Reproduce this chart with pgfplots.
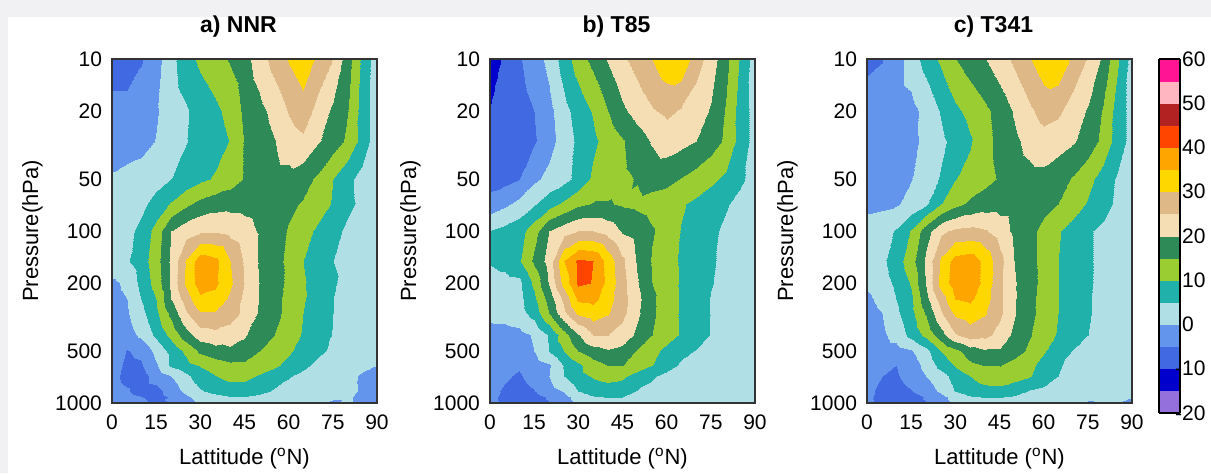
\documentclass[border=0pt]{standalone}
\usepackage{fontspec}
\setmainfont{Liberation Sans}
\usepackage{pgfplots}
\pgfplotsset{compat=1.18}

\definecolor{w01}{HTML}{9370DB}
\definecolor{w02}{HTML}{0000CD}
\definecolor{w03}{HTML}{4169E1}
\definecolor{w04}{HTML}{6495ED}
\definecolor{w05}{HTML}{B0E0E6}
\definecolor{w06}{HTML}{20B2AA}
\definecolor{w07}{HTML}{9ACD32}
\definecolor{w08}{HTML}{2E8B57}
\definecolor{w09}{HTML}{F5DEB3}
\definecolor{w10}{HTML}{DEB887}
\definecolor{w11}{HTML}{FFD700}
\definecolor{w12}{HTML}{FFA500}
\definecolor{w13}{HTML}{FF4500}
\definecolor{w14}{HTML}{B22222}
\definecolor{w15}{HTML}{FFB6C1}
\definecolor{w16}{HTML}{FF1493}
\definecolor{bggray}{HTML}{F1F1F4}

% 16 bands of 5 m/s between -20 and 60
\pgfplotsset{
  colormap={wind}{color=(w01) color=(w02) color=(w03) color=(w04) color=(w05)
    color=(w06) color=(w07) color=(w08) color=(w09) color=(w10) color=(w11)
    color=(w12) color=(w13) color=(w14) color=(w15) color=(w16)}
}

\begin{document}
\begin{tikzpicture}
\path[use as bounding box] (0,0) rectangle (605.5pt,236.5pt);
\fill[bggray] (0,0) rectangle (605.5pt,236.5pt);
\fill[white] (4pt,0) rectangle (605.5pt,228pt);

% a) NNR
\begin{axis}[at={(56pt,35pt)}, anchor=south west, title={a) NNR},
    scale only axis, width=132.5pt, height=172pt,
    xmin=0, xmax=90, ymin=10, ymax=1000, ymode=log, y dir=reverse,
    xtick={0,15,30,45,60,75,90}, xticklabels={0,15,30,45,60,75,90},
    ytick={10,20,50,100,200,500,1000}, yticklabels={10,20,50,100,200,500,1000},
    major tick length=0pt, minor tick length=0pt,
    axis on top,
    colormap name=wind, colormap access=piecewise constant,
    point meta min=-20, point meta max=60,
    tick label style={font=\fontsize{10.5}{12}\selectfont},
    xticklabel style={yshift=-2.5pt},
    yticklabel style={xshift=-1.5pt},
    xlabel={Lattitude (\textsuperscript{o}N)},
    ylabel={Pressure(hPa)},
    label style={font=\fontsize{11}{13}\selectfont},
    xlabel style={at={(axis description cs:0.5,-0.180)}, anchor=base},
    ylabel style={at={(axis description cs:-0.30,0.5)}, rotate=0, anchor=center},
    title style={font=\bfseries\fontsize{11.5}{13}\selectfont,
      at={(axis description cs:0.5,1)}, anchor=base, yshift=7.5pt, xshift=-3pt},
    axis line style={black!80, line width=0.6pt}]
\addplot[surf, shader=interp, mesh/ordering=x varies, mesh/cols=19, point meta=explicit] coordinates {
(0,10) [-8] (5,10) [-8] (10,10) [-5.5] (15,10) [-2] (20,10) [3.5] (25,10) [8] (30,10) [11] (35,10) [13] (40,10) [15.5] (45,10) [18] (50,10) [22.5] (55,10) [27] (60,10) [30.5] (65,10) [33] (70,10) [29] (75,10) [25] (80,10) [17] (85,10) [9] (90,10) [2]
(0,20) [-3] (5,20) [-3] (10,20) [-2] (15,20) [-0.5] (20,20) [2.5] (25,20) [4.5] (30,20) [7] (35,20) [9] (40,20) [11.5] (45,20) [16] (50,20) [18.5] (55,20) [21.5] (60,20) [25.5] (65,20) [28] (70,20) [23] (75,20) [19] (80,20) [15] (85,20) [8] (90,20) [2]
(0,30) [-3] (5,30) [-3] (10,30) [-2] (15,30) [0.2] (20,30) [2.5] (25,30) [4.8] (30,30) [6.5] (35,30) [8] (40,30) [10.2] (45,30) [15.2] (50,30) [17.5] (55,30) [19.8] (60,30) [22.5] (65,30) [24] (70,30) [20.5] (75,30) [17.5] (80,30) [14] (85,30) [8] (90,30) [2]
(0,50) [0.8] (5,50) [2] (10,50) [2.5] (15,50) [3.5] (20,50) [5] (25,50) [7] (30,50) [9] (35,50) [10.5] (40,50) [12.5] (45,50) [15.2] (50,50) [17] (55,50) [18.5] (60,50) [18.5] (65,50) [17] (70,50) [14] (75,50) [10] (80,50) [6] (85,50) [3.5] (90,50) [2]
(0,70) [2] (5,70) [3] (10,70) [4] (15,70) [6.5] (20,70) [10.5] (25,70) [14] (30,70) [16.5] (35,70) [18] (40,70) [18.5] (45,70) [18.5] (50,70) [18] (55,70) [17.5] (60,70) [16] (65,70) [14.5] (70,70) [12.5] (75,70) [9.5] (80,70) [6] (85,70) [4] (90,70) [2]
(0,100) [3] (5,100) [4] (10,100) [6] (15,100) [12] (20,100) [20] (25,100) [23] (30,100) [24.5] (35,100) [24.5] (40,100) [23.5] (45,100) [22] (50,100) [19.5] (55,100) [17] (60,100) [14.5] (65,100) [12] (70,100) [9] (75,100) [6.5] (80,100) [4] (85,100) [3] (90,100) [2]
(0,150) [3] (5,150) [4.5] (10,150) [7.5] (15,150) [13] (20,150) [21] (25,150) [30.5] (30,150) [38] (35,150) [36.5] (40,150) [30] (45,150) [24.5] (50,150) [19.5] (55,150) [16.5] (60,150) [14] (65,150) [10] (70,150) [7.5] (75,150) [5] (80,150) [4] (85,150) [3] (90,150) [2.5]
(0,200) [-1] (5,200) [1] (10,200) [6.5] (15,200) [12] (20,200) [21] (25,200) [31] (30,200) [37.5] (35,200) [36] (40,200) [31] (45,200) [25] (50,200) [20] (55,200) [17] (60,200) [14] (65,200) [10.5] (70,200) [8] (75,200) [5.5] (80,200) [3.5] (85,200) [3] (90,200) [2.5]
(0,250) [-1.5] (5,250) [0] (10,250) [5] (15,250) [10] (20,250) [20] (25,250) [27.5] (30,250) [34] (35,250) [33.5] (40,250) [29] (45,250) [24] (50,250) [19.8] (55,250) [16.5] (60,250) [13.5] (65,250) [10.5] (70,250) [7.5] (75,250) [5] (80,250) [3.5] (85,250) [3] (90,250) [2.5]
(0,300) [-2] (5,300) [-0.5] (10,300) [3.5] (15,300) [9] (20,300) [16.5] (25,300) [24.5] (30,300) [29.5] (35,300) [29.5] (40,300) [27.5] (45,300) [24] (50,300) [19.5] (55,300) [16.5] (60,300) [13.5] (65,300) [10] (70,300) [7.5] (75,300) [5] (80,300) [3.5] (85,300) [3] (90,300) [2.5]
(0,400) [-3] (5,400) [-2] (10,400) [1] (15,400) [6] (20,400) [11.5] (25,400) [18] (30,400) [22.5] (35,400) [23.5] (40,400) [22.5] (45,400) [20.5] (50,400) [17.5] (55,400) [15] (60,400) [12.5] (65,400) [9.5] (70,400) [7] (75,400) [4.8] (80,400) [3.5] (85,400) [3] (90,400) [2.5]
(0,500) [-3] (5,500) [-5.2] (10,500) [-4] (15,500) [1.5] (20,500) [6.5] (25,500) [11] (30,500) [16] (35,500) [18] (40,500) [19] (45,500) [18.5] (50,500) [15] (55,500) [12.5] (60,500) [10.7] (65,500) [8] (70,500) [5.8] (75,500) [4.3] (80,500) [3] (85,500) [2.5] (90,500) [2]
(0,600) [-3] (5,600) [-6] (10,600) [-5.5] (15,600) [-0.5] (20,600) [6] (25,600) [8.5] (30,600) [10.5] (35,600) [12.5] (40,600) [14] (45,600) [14] (50,600) [13] (55,600) [11] (60,600) [8.5] (65,600) [6] (70,600) [4] (75,600) [3] (80,600) [2.5] (85,600) [1] (90,600) [0]
(0,700) [-3.5] (5,700) [-6.5] (10,700) [-7] (15,700) [-3] (20,700) [0] (25,700) [4] (30,700) [7.5] (35,700) [9.8] (40,700) [11.5] (45,700) [11.5] (50,700) [9.5] (55,700) [7.5] (60,700) [5.3] (65,700) [4] (70,700) [3] (75,700) [2] (80,700) [1] (85,700) [-0.5] (90,700) [-1.5]
(0,850) [-3] (5,850) [-4.5] (10,850) [-7] (15,850) [-6.5] (20,850) [-3] (25,850) [1.5] (30,850) [4.5] (35,850) [6.5] (40,850) [7.5] (45,850) [7.5] (50,850) [6.5] (55,850) [4.5] (60,850) [3.5] (65,850) [3] (70,850) [2.5] (75,850) [2] (80,850) [1] (85,850) [-0.5] (90,850) [-1.5]
(0,925) [-2.5] (5,925) [-3.5] (10,925) [-4.8] (15,925) [-6.5] (20,925) [-4.5] (25,925) [-1] (30,925) [2] (35,925) [3.5] (40,925) [4.8] (45,925) [4.8] (50,925) [4] (55,925) [3] (60,925) [2.5] (65,925) [1.5] (70,925) [1] (75,925) [0.5] (80,925) [0.5] (85,925) [-1] (90,925) [-2]
(0,1000) [-2] (5,1000) [-3] (10,1000) [-4] (15,1000) [-5.5] (20,1000) [-5] (25,1000) [-2] (30,1000) [0.5] (35,1000) [2] (40,1000) [3] (45,1000) [3.5] (50,1000) [3.5] (55,1000) [3] (60,1000) [2] (65,1000) [1] (70,1000) [0.2] (75,1000) [-0.5] (80,1000) [0.5] (85,1000) [-0.5] (90,1000) [-1.5]
};
\end{axis}

% b) T85
\begin{axis}[at={(245pt,35pt)}, anchor=south west, title={b) T85},
    scale only axis, width=132.5pt, height=172pt,
    xmin=0, xmax=90, ymin=10, ymax=1000, ymode=log, y dir=reverse,
    xtick={0,15,30,45,60,75,90}, xticklabels={0,15,30,45,60,75,90},
    ytick={10,20,50,100,200,500,1000}, yticklabels={10,20,50,100,200,500,1000},
    major tick length=0pt, minor tick length=0pt,
    axis on top,
    colormap name=wind, colormap access=piecewise constant,
    point meta min=-20, point meta max=60,
    tick label style={font=\fontsize{10.5}{12}\selectfont},
    xticklabel style={yshift=-2.5pt},
    yticklabel style={xshift=-1.5pt},
    xlabel={Lattitude (\textsuperscript{o}N)},
    ylabel={Pressure(hPa)},
    label style={font=\fontsize{11}{13}\selectfont},
    xlabel style={at={(axis description cs:0.5,-0.180)}, anchor=base},
    ylabel style={at={(axis description cs:-0.30,0.5)}, rotate=0, anchor=center},
    title style={font=\bfseries\fontsize{11.5}{13}\selectfont,
      at={(axis description cs:0.5,1)}, anchor=base, yshift=7.5pt, xshift=-3pt},
    axis line style={black!80, line width=0.6pt}]
\addplot[surf, shader=interp, mesh/ordering=x varies, mesh/cols=19, point meta=explicit] coordinates {
(0,10) [-14] (5,10) [-8.5] (10,10) [-5.5] (15,10) [-2.5] (20,10) [1.5] (25,10) [7.5] (30,10) [12.5] (35,10) [16.5] (40,10) [20.5] (45,10) [24] (50,10) [27] (55,10) [30] (60,10) [33.5] (65,10) [34] (70,10) [27.5] (75,10) [22.5] (80,10) [16.5] (85,10) [9.5] (90,10) [2.5]
(0,20) [-9.8] (5,20) [-8] (10,20) [-7] (15,20) [-5] (20,20) [-1.5] (25,20) [3.5] (30,20) [7] (35,20) [10.5] (40,20) [15] (45,20) [19] (50,20) [22] (55,20) [24.5] (60,20) [26] (65,20) [24.5] (70,20) [22] (75,20) [19.5] (80,20) [14.5] (85,20) [8] (90,20) [3]
(0,30) [-8] (5,30) [-8] (10,30) [-7] (15,30) [-5.5] (20,30) [-2] (25,30) [2.5] (30,30) [6] (35,30) [9] (40,30) [12] (45,30) [14.5] (50,30) [17.5] (55,30) [20.5] (60,30) [22.5] (65,30) [21.5] (70,30) [20] (75,30) [17.5] (80,30) [14] (85,30) [8] (90,30) [3]
(0,50) [-7] (5,50) [-6.5] (10,50) [-5.2] (15,50) [-1] (20,50) [1.5] (25,50) [3.5] (30,50) [6.5] (35,50) [11] (40,50) [13] (45,50) [14] (50,50) [15.3] (55,50) [17] (60,50) [16.5] (65,50) [14.8] (70,50) [13] (75,50) [11] (80,50) [9] (85,50) [6] (90,50) [3]
(0,70) [-3] (5,70) [-1] (10,70) [1.5] (15,70) [4.5] (20,70) [8] (25,70) [11] (30,70) [14] (35,70) [15.3] (40,70) [15.3] (45,70) [14.5] (50,70) [14] (55,70) [13] (60,70) [12] (65,70) [10.5] (70,70) [9] (75,70) [7.5] (80,70) [5.5] (85,70) [3.5] (90,70) [2]
(0,100) [5.2] (5,100) [6.5] (10,100) [8] (15,100) [13] (20,100) [20] (25,100) [23] (30,100) [25] (35,100) [25] (40,100) [23] (45,100) [19.5] (50,100) [18] (55,100) [15.5] (60,100) [12.5] (65,100) [9.8] (70,100) [8] (75,100) [6] (80,100) [4] (85,100) [3] (90,100) [2.5]
(0,150) [5.5] (5,150) [7] (10,150) [9.5] (15,150) [16] (20,150) [22] (25,150) [35] (30,150) [41] (35,150) [40] (40,150) [33] (45,150) [26] (50,150) [19.5] (55,150) [14.5] (60,150) [11.5] (65,150) [9.5] (70,150) [7.5] (75,150) [5.5] (80,150) [4] (85,150) [3] (90,150) [2.5]
(0,200) [2.5] (5,200) [3] (10,200) [3.5] (15,200) [11] (20,200) [20.5] (25,200) [32] (30,200) [41] (35,200) [39.8] (40,200) [33.5] (45,200) [27] (50,200) [20.5] (55,200) [15] (60,200) [12] (65,200) [9.5] (70,200) [7.5] (75,200) [5.2] (80,200) [4] (85,200) [3] (90,200) [2.5]
(0,250) [2] (5,250) [2.5] (10,250) [3.5] (15,250) [9] (20,250) [17] (25,250) [26.5] (30,250) [36] (35,250) [36.5] (40,250) [32] (45,250) [27] (50,250) [21.5] (55,250) [16] (60,250) [12] (65,250) [9.5] (70,250) [7] (75,250) [4.8] (80,250) [3.5] (85,250) [3] (90,250) [2.5]
(0,300) [1.5] (5,300) [2] (10,300) [3] (15,300) [7] (20,300) [15] (25,300) [24] (30,300) [31] (35,300) [33] (40,300) [30.5] (45,300) [26.5] (50,300) [21] (55,300) [16] (60,300) [12] (65,300) [9.5] (70,300) [7] (75,300) [4.8] (80,300) [3.5] (85,300) [3] (90,300) [2.5]
(0,400) [-2] (5,400) [-2] (10,400) [-1.5] (15,400) [0.5] (20,400) [5.5] (25,400) [13] (30,400) [19.5] (35,400) [25] (40,400) [25] (45,400) [23] (50,400) [19] (55,400) [15] (60,400) [12] (65,400) [9.5] (70,400) [7] (75,400) [4.8] (80,400) [3.5] (85,400) [3] (90,400) [2.5]
(0,500) [-2] (5,500) [-2.5] (10,500) [-2] (15,500) [0] (20,500) [5.2] (25,500) [10] (30,500) [15] (35,500) [18] (40,500) [19.5] (45,500) [18.5] (50,500) [14.5] (55,500) [11.5] (60,500) [8.5] (65,500) [6] (70,500) [4.8] (75,500) [4] (80,500) [3.5] (85,500) [3] (90,500) [2.5]
(0,600) [-2.5] (5,600) [-3.5] (10,600) [-4.5] (15,600) [-2.5] (20,600) [-0.5] (25,600) [5.5] (30,600) [9] (35,600) [13] (40,600) [15.3] (45,600) [15.3] (50,600) [13] (55,600) [10.2] (60,600) [6.5] (65,600) [4.5] (70,600) [4] (75,600) [3.5] (80,600) [3] (85,600) [2.5] (90,600) [2]
(0,700) [-3] (5,700) [-4.5] (10,700) [-5.5] (15,700) [-3] (20,700) [0] (25,700) [5] (30,700) [8.5] (35,700) [10.5] (40,700) [11.5] (45,700) [11] (50,700) [8] (55,700) [5.5] (60,700) [4] (65,700) [3.5] (70,700) [3] (75,700) [3] (80,700) [2.5] (85,700) [2.5] (90,700) [2]
(0,850) [-4] (5,850) [-5.5] (10,850) [-7] (15,850) [-5.2] (20,850) [-2] (25,850) [0.5] (30,850) [5] (35,850) [7.5] (40,850) [8] (45,850) [7] (50,850) [4.8] (55,850) [4] (60,850) [3.5] (65,850) [3] (70,850) [3] (75,850) [2.5] (80,850) [2] (85,850) [2] (90,850) [2]
(0,925) [-4] (5,925) [-6] (10,925) [-7] (15,925) [-6.5] (20,925) [-4.5] (25,925) [-1.5] (30,925) [2] (35,925) [4.5] (40,925) [5.2] (45,925) [5] (50,925) [4] (55,925) [3] (60,925) [2] (65,925) [1.5] (70,925) [1.5] (75,925) [1.5] (80,925) [1] (85,925) [1.5] (90,925) [1]
(0,1000) [-4] (5,1000) [-5.5] (10,1000) [-6.5] (15,1000) [-6.5] (20,1000) [-5.2] (25,1000) [-2] (30,1000) [0.5] (35,1000) [2] (40,1000) [3] (45,1000) [3] (50,1000) [2.5] (55,1000) [1.5] (60,1000) [0.5] (65,1000) [-0.2] (70,1000) [0.5] (75,1000) [0] (80,1000) [-0.3] (85,1000) [0.5] (90,1000) [-0.5]
};
\end{axis}

% c) T341
\begin{axis}[at={(433.5pt,35pt)}, anchor=south west, title={c) T341},
    scale only axis, width=132.5pt, height=172pt,
    xmin=0, xmax=90, ymin=10, ymax=1000, ymode=log, y dir=reverse,
    xtick={0,15,30,45,60,75,90}, xticklabels={0,15,30,45,60,75,90},
    ytick={10,20,50,100,200,500,1000}, yticklabels={10,20,50,100,200,500,1000},
    major tick length=0pt, minor tick length=0pt,
    axis on top,
    colormap name=wind, colormap access=piecewise constant,
    point meta min=-20, point meta max=60,
    tick label style={font=\fontsize{10.5}{12}\selectfont},
    xticklabel style={yshift=-2.5pt},
    yticklabel style={xshift=-1.5pt},
    xlabel={Lattitude (\textsuperscript{o}N)},
    ylabel={Pressure(hPa)},
    label style={font=\fontsize{11}{13}\selectfont},
    xlabel style={at={(axis description cs:0.5,-0.180)}, anchor=base},
    ylabel style={at={(axis description cs:-0.30,0.5)}, rotate=0, anchor=center},
    title style={font=\bfseries\fontsize{11.5}{13}\selectfont,
      at={(axis description cs:0.5,1)}, anchor=base, yshift=7.5pt, xshift=-3pt},
    axis line style={black!80, line width=0.6pt},
    colorbar,
    colorbar style={
      at={(parent axis.north east)}, anchor=north west, xshift=5pt,
      width=10.5pt, height=177pt,
      ytick={-20,-10,0,10,20,30,40,50,60},
      yticklabels={\llap{-}20,\llap{-}10,0,10,20,30,40,50,60},
      yticklabel pos=right,
      major tick length=0pt,
      axis line style={line width=1.2pt, black},
      tick label style={font=\fontsize{10.5}{12}\selectfont},
      yticklabel style={xshift=-2.5pt},
    }]
\addplot[surf, shader=interp, mesh/ordering=x varies, mesh/cols=19, point meta=explicit] coordinates {
(0,10) [-6] (5,10) [-5.2] (10,10) [-2.5] (15,10) [2.5] (20,10) [7] (25,10) [11] (30,10) [14.8] (35,10) [17.5] (40,10) [19.8] (45,10) [23] (50,10) [26] (55,10) [29.5] (60,10) [33] (65,10) [34] (70,10) [29] (75,10) [24.5] (80,10) [19] (85,10) [11] (90,10) [3]
(0,20) [-3] (5,20) [-3] (10,20) [-2.5] (15,20) [-1.5] (20,20) [1.5] (25,20) [5.5] (30,20) [9] (35,20) [11.5] (40,20) [14] (45,20) [17] (50,20) [20.5] (55,20) [24] (60,20) [27] (65,20) [26] (70,20) [22.5] (75,20) [19.5] (80,20) [14.5] (85,20) [8] (90,20) [3]
(0,30) [-2.5] (5,30) [-2.5] (10,30) [-2] (15,30) [-1] (20,30) [1] (25,30) [4] (30,30) [6.5] (35,30) [9.5] (40,30) [13.5] (45,30) [16.5] (50,30) [19] (55,30) [21.5] (60,30) [23] (65,30) [22] (70,30) [20.5] (75,30) [18] (80,30) [13.5] (85,30) [8] (90,30) [3]
(0,50) [-2] (5,50) [-2] (10,50) [-1.5] (15,50) [-0.2] (20,50) [2.5] (25,50) [5.5] (30,50) [9.8] (35,50) [11.5] (40,50) [13.5] (45,50) [15.5] (50,50) [17.5] (55,50) [18.5] (60,50) [18.5] (65,50) [17] (70,50) [14.5] (75,50) [11.5] (80,50) [8] (85,50) [4.5] (90,50) [2.5]
(0,70) [-1.5] (5,70) [-1] (10,70) [-0.5] (15,70) [1.5] (20,70) [4.5] (25,70) [10] (30,70) [13.5] (35,70) [16] (40,70) [17.5] (45,70) [18] (50,70) [18] (55,70) [17.5] (60,70) [16.5] (65,70) [15] (70,70) [12.5] (75,70) [9.5] (80,70) [7] (85,70) [4] (90,70) [2.5]
(0,100) [2.5] (5,100) [3] (10,100) [5.5] (15,100) [10.5] (20,100) [18] (25,100) [24] (30,100) [26] (35,100) [26.5] (40,100) [25.5] (45,100) [22.5] (50,100) [19] (55,100) [16.5] (60,100) [13.5] (65,100) [10.5] (70,100) [8] (75,100) [5.5] (80,100) [4] (85,100) [3] (90,100) [2.5]
(0,150) [2.5] (5,150) [4] (10,150) [7.5] (15,150) [13] (20,150) [21] (25,150) [31] (30,150) [37] (35,150) [38] (40,150) [33.5] (45,150) [26.5] (50,150) [20] (55,150) [16.5] (60,150) [13.5] (65,150) [10] (70,150) [7.5] (75,150) [5.5] (80,150) [4] (85,150) [3] (90,150) [2.5]
(0,200) [1] (5,200) [3] (10,200) [6] (15,200) [10.5] (20,200) [20.5] (25,200) [32] (30,200) [37.5] (35,200) [38] (40,200) [33.5] (45,200) [26] (50,200) [20.5] (55,200) [16.8] (60,200) [13.5] (65,200) [10] (70,200) [7.5] (75,200) [5.5] (80,200) [4] (85,200) [3] (90,200) [2.5]
(0,250) [-1] (5,250) [1.5] (10,250) [5] (15,250) [9] (20,250) [18.5] (25,250) [27.5] (30,250) [35] (35,250) [36] (40,250) [32] (45,250) [26] (50,250) [20.5] (55,250) [16.5] (60,250) [13] (65,250) [10] (70,250) [7.5] (75,250) [5.3] (80,250) [4] (85,250) [3] (90,250) [2.5]
(0,300) [-2] (5,300) [0] (10,300) [4] (15,300) [8.5] (20,300) [15.5] (25,300) [24.5] (30,300) [31] (35,300) [32.5] (40,300) [30.5] (45,300) [26] (50,300) [20.5] (55,300) [16.5] (60,300) [13] (65,300) [10] (70,300) [7.5] (75,300) [5.3] (80,300) [4] (85,300) [3] (90,300) [2.5]
(0,400) [-3] (5,400) [-1] (10,400) [2] (15,400) [6.5] (20,400) [11.5] (25,400) [18] (30,400) [24.5] (35,400) [27.5] (40,400) [26.5] (45,400) [23] (50,400) [19] (55,400) [15.5] (60,400) [12.5] (65,400) [9.5] (70,400) [7] (75,400) [5] (80,400) [3.8] (85,400) [3] (90,400) [2.5]
(0,500) [-2.5] (5,500) [-2.5] (10,500) [-2] (15,500) [-0.5] (20,500) [3.5] (25,500) [10] (30,500) [13.5] (35,500) [17.5] (40,500) [19.5] (45,500) [19.5] (50,500) [17.5] (55,500) [14] (60,500) [10.5] (65,500) [7] (70,500) [4.8] (75,500) [4] (80,500) [3.5] (85,500) [3] (90,500) [2.5]
(0,600) [-3] (5,600) [-4.5] (10,600) [-5] (15,600) [-2.5] (20,600) [1.5] (25,600) [7] (30,600) [10.5] (35,600) [14] (40,600) [15.3] (45,600) [15.3] (50,600) [13] (55,600) [11.5] (60,600) [8] (65,600) [5.2] (70,600) [4.5] (75,600) [3.5] (80,600) [3] (85,600) [2.5] (90,600) [2]
(0,700) [-3] (5,700) [-5] (10,700) [-5.5] (15,700) [-3] (20,700) [0] (25,700) [3] (30,700) [7] (35,700) [10] (40,700) [12] (45,700) [12.5] (50,700) [12] (55,700) [10.5] (60,700) [7.5] (65,700) [5] (70,700) [4] (75,700) [3.5] (80,700) [3] (85,700) [2.5] (90,700) [2]
(0,850) [-4] (5,850) [-6] (10,850) [-7] (15,850) [-5.2] (20,850) [-2.5] (25,850) [1] (30,850) [5.2] (35,850) [7.5] (40,850) [8.5] (45,850) [8.5] (50,850) [7] (55,850) [4.8] (60,850) [4] (65,850) [3.5] (70,850) [3] (75,850) [2.5] (80,850) [2] (85,850) [1.5] (90,850) [1]
(0,925) [-4] (5,925) [-6.5] (10,925) [-7] (15,925) [-7] (20,925) [-4.5] (25,925) [-1.5] (30,925) [2] (35,925) [4.5] (40,925) [5.2] (45,925) [5.2] (50,925) [4.5] (55,925) [3.5] (60,925) [2.5] (65,925) [2] (70,925) [1.5] (75,925) [1] (80,925) [1] (85,925) [0.5] (90,925) [0]
(0,1000) [-4] (5,1000) [-5.5] (10,1000) [-6.5] (15,1000) [-6.5] (20,1000) [-5.2] (25,1000) [-2] (30,1000) [1] (35,1000) [2.5] (40,1000) [3.5] (45,1000) [3.5] (50,1000) [3] (55,1000) [2.5] (60,1000) [1.5] (65,1000) [1] (70,1000) [0.5] (75,1000) [-0.5] (80,1000) [0.5] (85,1000) [0] (90,1000) [-0.5]
};
\end{axis}
\end{tikzpicture}
\end{document}
